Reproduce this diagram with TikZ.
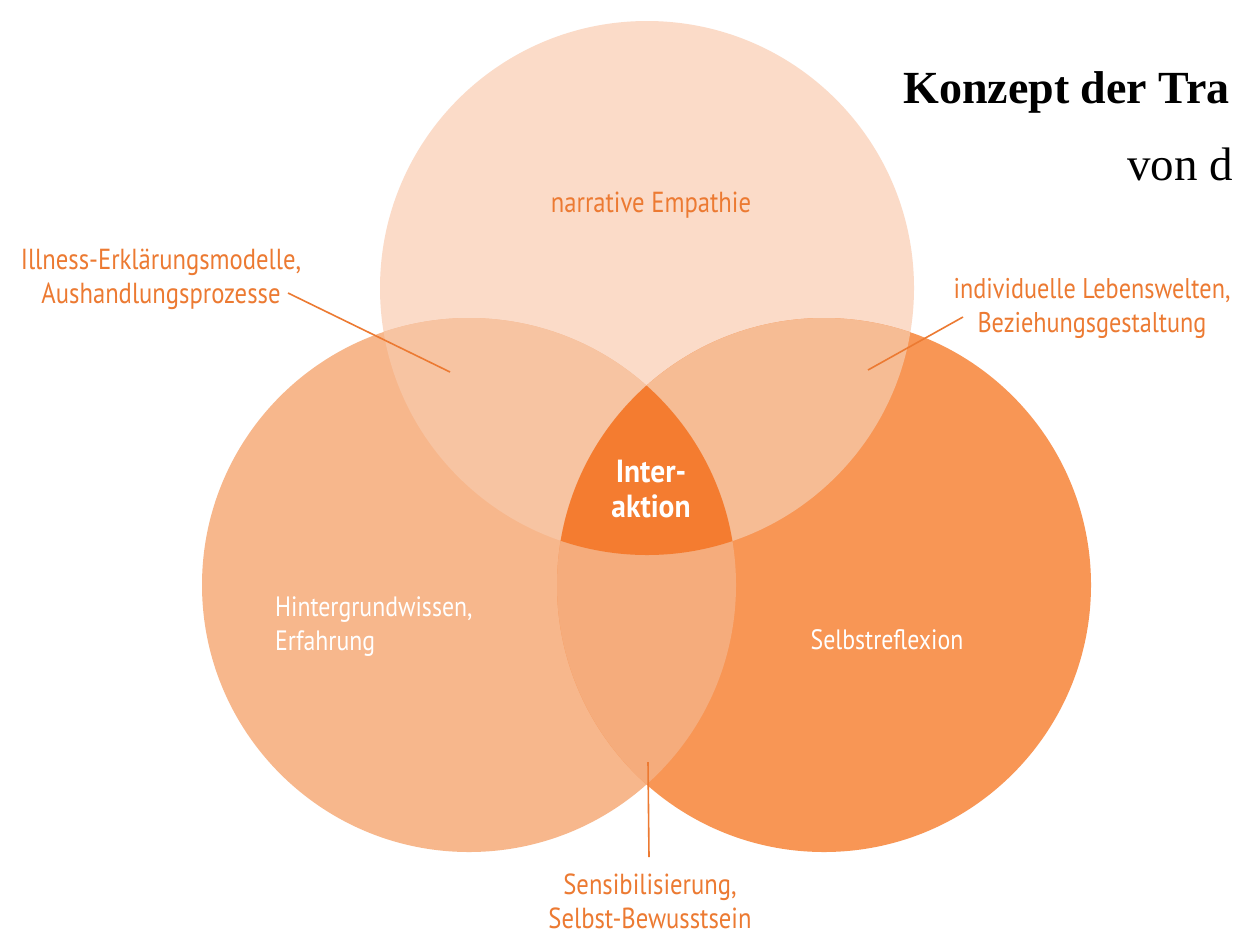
\documentclass[tikz,border=0pt]{standalone}
\usepackage{fontspec}
\setmainfont{Liberation Serif}
\newfontfamily\labfont[FakeStretch=0.85]{PT Sans}
\newfontfamily\intfont[FakeStretch=0.92]{PT Sans}
\definecolor{cT}{HTML}{FBDBC8}
\definecolor{cL}{HTML}{F7B78C}
\definecolor{cR}{HTML}{F89655}
\definecolor{cTL}{HTML}{F7C4A2}
\definecolor{cTR}{HTML}{F6BC94}
\definecolor{cLR}{HTML}{F5AC7C}
\definecolor{cC}{HTML}{F47C30}
\definecolor{txt}{HTML}{EC7A32}
\tikzset{
  lab/.style={text=txt, font=\labfont\fontsize{29}{34}\selectfont, align=center, inner sep=0pt},
  wlab/.style={text=white, font=\labfont\fontsize{28}{34}\selectfont, inner sep=0pt},
  leader/.style={draw=txt, line width=1.6pt},
}
\begin{document}
\begin{tikzpicture}[x=1pt,y=-1pt]
\useasboundingbox (0,0) rectangle (1233,935);
\fill[white] (0,0) rectangle (1233,935);
\coordinate (T) at (647,288);
\coordinate (L) at (469,585);
\coordinate (R) at (824,585);
\def\rr{267}
\fill[cT] (T) circle (\rr);
\fill[cL] (L) circle (\rr);
\fill[cR] (R) circle (\rr);
\begin{scope}
  \clip (T) circle (\rr);
  \fill[cTL] (L) circle (\rr);
  \fill[cTR] (R) circle (\rr);
\end{scope}
\begin{scope}
  \clip (L) circle (\rr);
  \fill[cLR] (R) circle (\rr);
\end{scope}
\begin{scope}
  \clip (T) circle (\rr);
  \clip (L) circle (\rr);
  \fill[cC] (R) circle (\rr);
\end{scope}

% title
\node[anchor=base west, inner sep=0pt, font=\bfseries\fontsize{46}{50}\selectfont] (title) at (903,103) {Konzept der Tra};
\node[anchor=base west, inner sep=0pt, font=\fontsize{47}{50}\selectfont] (von) at (1127,180) {von d};

% labels
\node[lab] (emp) at (651,205) {narrative Empathie};
\node[lab] (ill) at (161,279) {Illness-Erklärungsmodelle,\\Aushandlungsprozesse};
\node[lab, font=\labfont\fontsize{28.5}{34}\selectfont] (ind) at (1092,308) {individuelle Lebenswelten,\\Beziehungsgestaltung};
\node[lab] (sen) at (650,901) {Sensibilisierung,\\Selbst-Bewusstsein};
\node[wlab, align=center, font=\intfont\bfseries\fontsize{32}{35}\selectfont] (int) at (651,489) {Inter-\\aktion};
\node[wlab, align=left, anchor=west] (hin) at (275,627) {Hintergrundwissen,\\Erfahrung};
\node[wlab] (sel) at (887,640) {Selbstreflexion};

% leaders
\coordinate (pTL) at (450,372);
\coordinate (pTR) at (868,370);
\coordinate (pLR) at (648,762);
\coordinate (aIll) at (288,293);
\coordinate (aInd) at (963,317);
\coordinate (aSen) at (649,857);
\draw[leader] (aIll) -- (pTL);
\draw[leader] (aInd) -- (pTR);
\draw[leader] (aSen) -- (pLR);
\end{tikzpicture}
\end{document}
